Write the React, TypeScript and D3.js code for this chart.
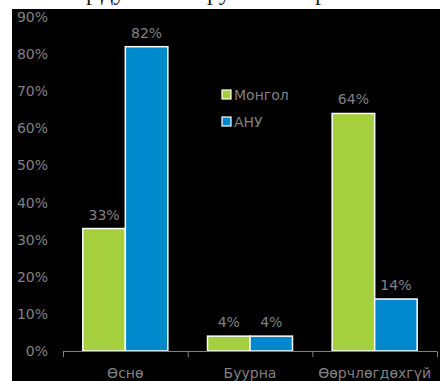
import React from "react";
import * as d3 from "d3";

const categories = ["Өснө", "Буурна", "Өөрчлөгдөхгүй"];
const seriesNames = ["Монгол", "АНУ"];
const mongolValues = [0.33, 0.04, 0.64];
const usaValues = [0.82, 0.04, 0.14];
const yTicks = [0, 0.1, 0.2, 0.3, 0.4, 0.5, 0.6, 0.7, 0.8, 0.9];
const seriesColors = ["#a5cf3c", "#0088cc"];

const W = 440;
const H = 381;
const FONT = "'DejaVu Sans', Verdana, sans-serif";
const GREY = "#808080";

export default function App() {
  const y = d3.scaleLinear().domain([0, 0.9]).range([351, 17]);
  const x = d3.scaleBand<string>().domain(categories).range([63, 437]).paddingInner(0).paddingOuter(0);
  const groupW = 85;
  const x1 = d3.scaleBand<string>().domain(seriesNames).range([0, groupW]);
  const seriesValues = [mongolValues, usaValues];
  const fmt = d3.format(".0%");
  const tickXs = [...categories.map((c) => x(c) as number), 437];

  return (
    <svg
      width={W}
      height={H}
      style={{ position: "absolute", left: 0, top: 0, background: "#fff" }}
      fontFamily={FONT}
    >
      {/* cut-off title descenders */}
      <g fontFamily="'Liberation Serif', 'DejaVu Serif', serif" fontSize={24} fill="#222">
        <text x={86} y={0}>р</text>
        <text x={101} y={0}>ду</text>
        <text x={207} y={0}>ру</text>
        <text x={315} y={0}>р</text>
      </g>
      <rect x={12} y={9} width={W - 12} height={H - 9} fill="#000" />

      {/* y labels */}
      {yTicks.map((t) => (
        <text
          key={t}
          x={48}
          y={y(t)}
          textAnchor="end"
          dominantBaseline="central"
          fontSize={14}
          fill={GREY}
        >
          {fmt(t)}
        </text>
      ))}

      {/* bars */}
      {categories.map((c, ci) => {
        const gx = (x(c) as number) + (x.bandwidth() - groupW) / 2;
        return (
          <g key={c} transform={`translate(${gx},0)`}>
            {seriesNames.map((s, si) => {
              const v = seriesValues[si][ci];
              const bx = x1(s) as number;
              return (
                <g key={s}>
                  <rect
                    x={bx}
                    y={y(v)}
                    width={x1.bandwidth()}
                    height={y(0) - y(v)}
                    fill={seriesColors[si]}
                    stroke="#fff"
                    strokeWidth={1.5}
                  />
                  <text
                    x={bx + x1.bandwidth() / 2}
                    y={y(v) - 14}
                    textAnchor="middle"
                    dominantBaseline="central"
                    fontSize={14}
                    fill={GREY}
                  >
                    {fmt(v)}
                  </text>
                </g>
              );
            })}
          </g>
        );
      })}

      {/* x axis */}
      <line x1={63} x2={437} y1={351.5} y2={351.5} stroke={GREY} strokeWidth={1} />
      {tickXs.map((tx, i) => (
        <line key={i} x1={tx + 0.5} x2={tx + 0.5} y1={351.5} y2={357} stroke={GREY} strokeWidth={1} />
      ))}
      {categories.map((c) => (
        <text
          key={c}
          x={(x(c) as number) + x.bandwidth() / 2}
          y={373}
          textAnchor="middle"
          dominantBaseline="central"
          fontSize={14}
          fill={GREY}
        >
          {c}
        </text>
      ))}

      {/* legend */}
      {seriesNames.map((s, i) => (
        <g key={s} transform={`translate(222,${90 + i * 27})`}>
          <rect x={0} y={0} width={9} height={9} fill={seriesColors[i]} stroke="#fff" strokeWidth={1.2} />
          <text x={12} y={5} dominantBaseline="central" fontSize={14} fill={GREY}>
            {s}
          </text>
        </g>
      ))}
    </svg>
  );
}
